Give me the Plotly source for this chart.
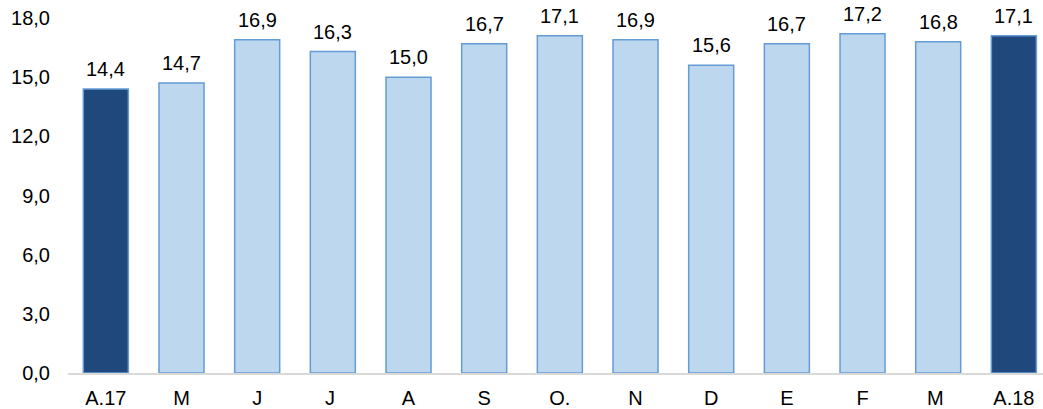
import plotly.graph_objects as go

categories = ["A.17", "M", "J", "J ", "A", "S", "O.", "N", "D", "E", "F", "M ", "A.18"]
values = [14.4, 14.7, 16.9, 16.3, 15.0, 16.7, 17.1, 16.9, 15.6, 16.7, 17.2, 16.8, 17.1]
highlight = [True, False, False, False, False, False, False, False, False, False, False, False, True]
y_ticks = [0, 3, 6, 9, 12, 15, 18]
y_tick_labels = ["0,0", "3,0", "6,0", "9,0", "12,0", "15,0", "18,0"]

dark = "#1f497d"
light = "#bdd7ee"
border = "#649cd6"
FONT = "Liberation Sans, Arial"
FS = 20

colors = [dark if h else light for h in highlight]
text_labels = [f"{v:.1f}".replace(".", ",") for v in values]

fig = go.Figure(go.Bar(
    x=categories,
    y=values,
    marker=dict(color=colors, line=dict(color=border, width=1.5)),
    width=0.595,
    hoverinfo="x+y",
))

for c, v, t in zip(categories, values, text_labels):
    fig.add_annotation(
        x=c, y=v, text=t, showarrow=False,
        yanchor="middle", xanchor="center", yshift=20,
        font=dict(family=FONT, size=FS, color="#000000"),
    )

fig.update_layout(
    width=1043, height=409,
    margin=dict(l=68, r=0, t=18, b=36, autoexpand=False),
    paper_bgcolor="white", plot_bgcolor="white",
    font=dict(family=FONT, size=FS, color="#000000"),
    showlegend=False,
)
fig.update_xaxes(
    type="category",
    range=[-0.5, 12.385],
    automargin=False,
    showline=True, linecolor="#d9d9d9", linewidth=1.5,
    showgrid=False, ticks="", ticklabelstandoff=6,
    tickfont=dict(family=FONT, size=FS),
)
fig.update_yaxes(
    range=[0, 18],
    automargin=False,
    tickvals=y_ticks, ticktext=y_tick_labels,
    showgrid=False, zeroline=False, showline=False,
    ticks="", ticklabelstandoff=17,
    tickfont=dict(family=FONT, size=FS),
)

fig.write_html(
    "out.html",
    config={"displayModeBar": False},
    post_script="document.body.style.margin='0';document.body.style.overflow='hidden';",
)
